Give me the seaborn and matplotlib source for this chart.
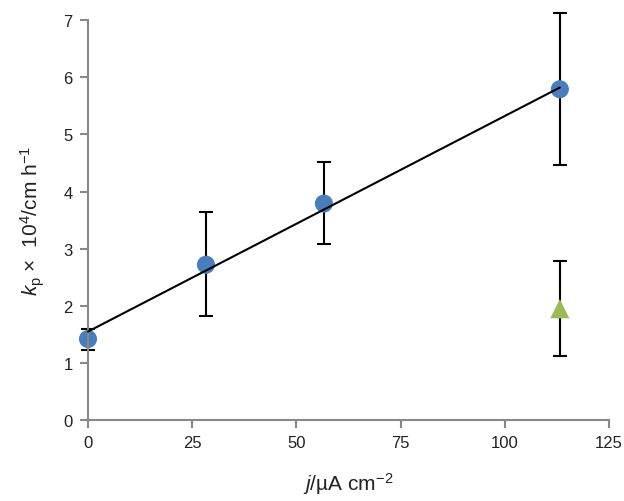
import numpy as np
import pandas as pd
import seaborn as sns
import matplotlib.pyplot as plt

# data
j_vals = [0, 28.3, 56.6, 113.2]
kp_vals = [1.42, 2.72, 3.79, 5.79]
kp_lo = [1.23, 1.82, 3.08, 4.46]
kp_hi = [1.60, 3.65, 4.52, 7.12]

tri_j = [113.2]
tri_kp = [1.95]
tri_lo = [1.12]
tri_hi = [2.79]

fit_j = [0, 113.2]
fit_kp = [1.55, 5.82]

x_ticks = [0, 25, 50, 75, 100, 125]
y_ticks = [0, 1, 2, 3, 4, 5, 6, 7]

sns.set_style("white")
plt.rcParams['font.family'] = ['Liberation Sans', 'DejaVu Sans']
plt.rcParams['mathtext.fontset'] = 'custom'
plt.rcParams['mathtext.rm'] = 'Liberation Sans'
plt.rcParams['mathtext.it'] = 'Liberation Sans:italic'

fig, ax = plt.subplots(figsize=(6.24, 5.02), dpi=100)
fig.subplots_adjust(left=0.141, right=0.976, top=0.958, bottom=0.161)

df = pd.DataFrame({"j": j_vals, "kp": kp_vals})
tri = pd.DataFrame({"j": tri_j, "kp": tri_kp})
fit = pd.DataFrame({"j": fit_j, "kp": fit_kp})

ax.errorbar(j_vals, kp_vals,
            yerr=[np.array(kp_vals) - np.array(kp_lo), np.array(kp_hi) - np.array(kp_vals)],
            fmt='none', ecolor='black', elinewidth=1.5, capsize=5, capthick=1.5, zorder=1)
ax.errorbar(tri_j, tri_kp,
            yerr=[np.array(tri_kp) - np.array(tri_lo), np.array(tri_hi) - np.array(tri_kp)],
            fmt='none', ecolor='black', elinewidth=1.5, capsize=5, capthick=1.5, zorder=1)

sns.scatterplot(data=df, x="j", y="kp", ax=ax, color='#4a7ebb', s=170,
                marker='o', edgecolor='none', zorder=2)
sns.scatterplot(data=tri, x="j", y="kp", ax=ax, color='#9bbb59', s=190,
                marker='^', edgecolor='none', zorder=2)
sns.lineplot(data=fit, x="j", y="kp", ax=ax, color='black', linewidth=1.5, zorder=3)

ax.set_xlim(0, 125)
ax.set_ylim(0, 7)
ax.set_xticks(x_ticks)
ax.set_yticks(y_ticks)
ax.set_xlabel(r'$\it{j}$/µA cm$^{-2}$', fontsize=15, labelpad=14, color='#222222')
ax.set_ylabel(r'$k_\mathrm{p}$ ×  10$^4$/cm h$^{-1}$', fontsize=15, labelpad=12, color='#222222')
ax.tick_params(axis='both', direction='out', length=6, width=1.5, color='#888888',
               labelsize=12, pad=5, labelcolor='#222222', bottom=True, left=True)
for side in ['top', 'right']:
    ax.spines[side].set_visible(False)
for side in ['left', 'bottom']:
    ax.spines[side].set_color('#888888')
    ax.spines[side].set_linewidth(1.5)
for c in ax.collections:
    c.set_clip_on(False)
for l in ax.lines:
    l.set_clip_on(False)

plt.savefig('out.png', dpi=100)
